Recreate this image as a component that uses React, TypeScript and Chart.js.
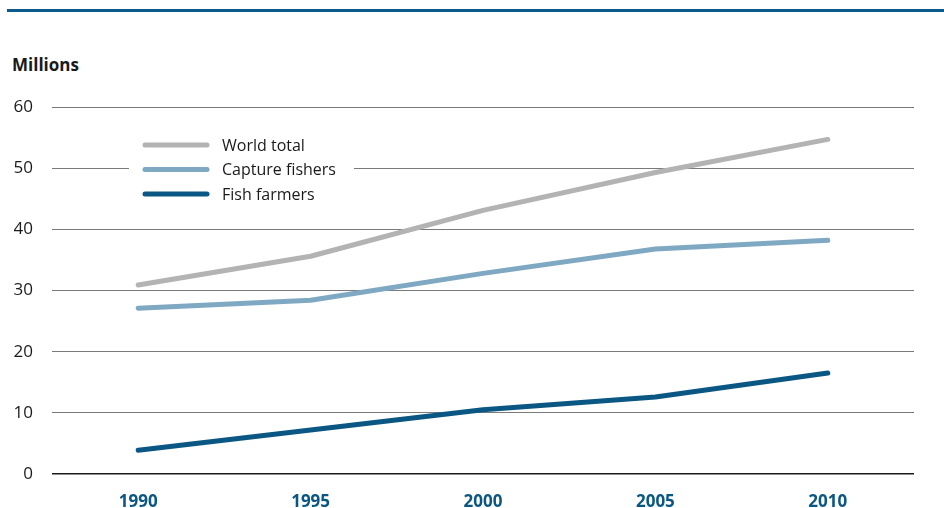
import React, { useEffect, useRef } from "react";
import { Chart, registerables } from "chart.js";

Chart.register(...registerables);

const years = ["1990", "1995", "2000", "2005", "2010"];
const worldTotal = [30.9, 35.6, 43.1, 49.3, 54.7];
const captureFishers = [27.1, 28.4, 32.8, 36.8, 38.2];
const fishFarmers = [3.9, 7.2, 10.5, 12.6, 16.5];
const seriesLabels = ["World total", "Capture fishers", "Fish farmers"];
const seriesColors = ["#b3b3b3", "#7fa8c2", "#0b5783"];

const FONT = "'Open Sans', 'Noto Sans', sans-serif";

const insideLegend = {
  id: "insideLegend",
  afterDatasetsDraw(chart: any) {
    const ctx = chart.ctx;
    ctx.save();
    ctx.fillStyle = "#ffffff";
    ctx.fillRect(129, 132, 225, 74);
    chart.data.datasets.forEach((ds: any, i: number) => {
      const y = 145 + i * 24.5;
      ctx.strokeStyle = ds.borderColor;
      ctx.lineWidth = 5;
      ctx.lineCap = "round";
      ctx.beginPath();
      ctx.moveTo(145, y);
      ctx.lineTo(207, y);
      ctx.stroke();
      ctx.fillStyle = "#1a1a1a";
      ctx.font = `16px ${FONT}`;
      ctx.textBaseline = "middle";
      ctx.textAlign = "left";
      ctx.fillText(ds.label, 222, y + 1);
    });
    ctx.restore();
  },
};

export default function App() {
  const canvasRef = useRef<HTMLCanvasElement | null>(null);

  useEffect(() => {
    if (!canvasRef.current) return;
    const mk = (label: string, data: number[], color: string) => ({
      label,
      data,
      borderColor: color,
      backgroundColor: color,
      borderWidth: 5,
      borderCapStyle: "round" as const,
      borderJoinStyle: "round" as const,
      pointRadius: 0,
      tension: 0,
      fill: false,
    });
    const chart = new Chart(canvasRef.current, {
      type: "line",
      data: {
        labels: years,
        datasets: [
          mk(seriesLabels[0], worldTotal, seriesColors[0]),
          mk(seriesLabels[1], captureFishers, seriesColors[1]),
          mk(seriesLabels[2], fishFarmers, seriesColors[2]),
        ],
      },
      options: {
        animation: false,
        responsive: true,
        maintainAspectRatio: false,
        layout: { padding: { top: 107, left: 14, right: 30, bottom: 0 } },
        plugins: {
          legend: { display: false },
          tooltip: { enabled: false },
          title: { display: false },
        },
        scales: {
          x: {
            offset: true,
            grid: { display: false, drawTicks: false },
            border: { display: false },
            ticks: {
              color: "#0b5783",
              font: { family: FONT, size: 17, weight: "bold" },
              padding: 18,
            },
            afterFit: (s: any) => {
              s.height = 34;
            },
          },
          y: {
            min: 0,
            max: 60,
            ticks: {
              stepSize: 10,
              color: "#1a1a1a",
              padding: 19,
              font: { family: FONT, size: 17 },
            },
            grid: {
              drawTicks: false,
              color: (c: any) => (c.tick && c.tick.value === 0 ? "#1a1a1a" : "#7a7a7a"),
              lineWidth: (c: any) => (c.tick && c.tick.value === 0 ? 1.6 : 1),
            },
            border: { display: false },
            afterFit: (s: any) => {
              s.width = 38;
            },
          },
        },
      },
      plugins: [insideLegend],
    });
    return () => chart.destroy();
  }, []);

  return (
    <div style={{ position: "fixed", left: 0, top: 0, width: 944, height: 508, background: "#fff", overflow: "hidden" }}>
      <div style={{ position: "absolute", left: 7, top: 9, width: 937, height: 3, background: "#0b5a8a" }} />
      <div
        style={{
          position: "absolute",
          left: 12,
          top: 53,
          fontFamily: FONT,
          fontWeight: 700,
          fontSize: 17,
          color: "#1a1a1a",
        }}
      >
        Millions
      </div>
      <div style={{ position: "absolute", left: 0, top: 0, width: 944, height: 508 }}>
        <canvas ref={canvasRef} />
      </div>
    </div>
  );
}
